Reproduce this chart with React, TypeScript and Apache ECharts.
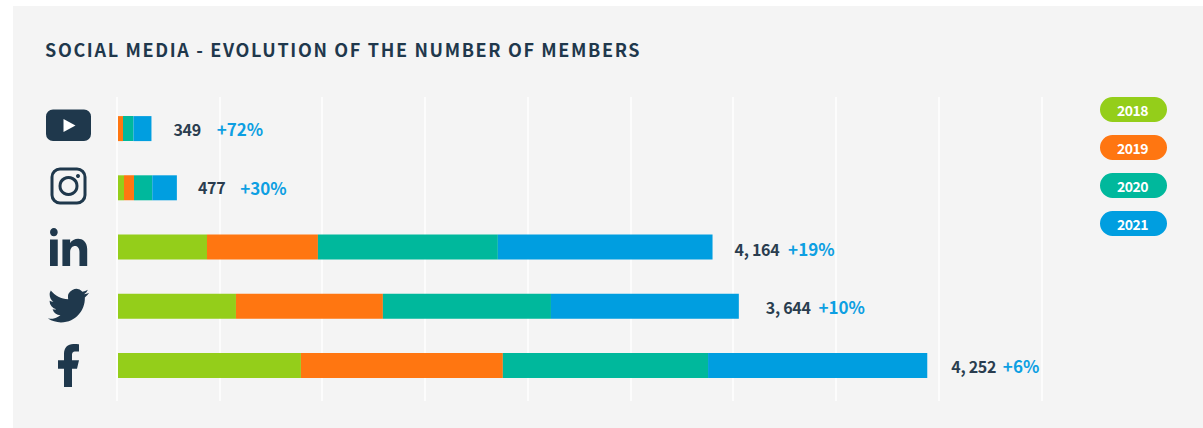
import React, { useEffect, useRef } from "react";
import * as echarts from "echarts";

const titleText = "SOCIAL MEDIA - EVOLUTION OF THE NUMBER OF MEMBERS";
const categories = ["YouTube", "Instagram", "LinkedIn", "Twitter", "Facebook"];
const years = ["2018", "2019", "2020", "2021"];
const values2018 = [0, 116, 1726, 2288, 3548];
const values2019 = [97, 194, 2152, 2850, 3917];
const values2020 = [203, 355, 3490, 3260, 3980];
const values2021 = [349, 477, 4164, 3644, 4252];
const growth = ["+72%", "+30%", "+19%", "+10%", "+6%"];
const labelGaps = [22, 21, 22, 27, 24];
const labelOffsetsY = [0, -0.5, 1.5, 0.5, 0.5];
const labelSpacers = [15, 14, 7, 6, 5];
const yearColors = ["#94ce1a", "#ff7611", "#00b89c", "#009ee0"];
const allValues = [values2018, values2019, values2020, values2021];

const FONT = "'Noto Sans CJK SC', 'Noto Sans', sans-serif";
const DARK = "#1f384c";

echarts.graphic.registerShape(
  "twitterIcon",
  echarts.graphic.extendPath(
    "M23.953 4.57a10 10 0 0 1 -2.825 .775 4.958 4.958 0 0 0 2.163 -2.723c-.951.555-2.005.959-3.127 1.184a4.92 4.92 0 0 0 -8.384 4.482C7.69 8.095 4.067 6.13 1.64 3.162a4.822 4.822 0 0 0 -.666 2.475c0 1.71.87 3.213 2.188 4.096a4.904 4.904 0 0 1 -2.228 -.616v.06a4.923 4.923 0 0 0 3.946 4.827 4.996 4.996 0 0 1 -2.212 .085 4.936 4.936 0 0 0 4.604 3.417 9.867 9.867 0 0 1 -6.102 2.105c-.39 0-.779-.023-1.17-.067a13.995 13.995 0 0 0 7.557 2.209c9.053 0 13.998-7.496 13.998-13.985 0-.21 0-.42-.015-.63A9.935 9.935 0 0 0 24 4.59z",
    {}
  )
);
echarts.graphic.registerShape(
  "facebookIcon",
  echarts.graphic.extendPath(
    "M14 13.5h2.5l1-4H14v-2c0-1.03 0-2 2-2h1.5V2.14c-.326-.043-1.557-.14-2.857-.14C11.928 2 10 3.657 10 6.7v2.8H7v4h3V22h4z",
    {}
  )
);
echarts.graphic.registerShape(
  "linkedinIcon",
  echarts.graphic.extendPath(
    "M4.98 3.5c0 1.381-1.11 2.5-2.48 2.5s-2.48-1.119-2.48-2.5c0-1.38 1.11-2.5 2.48-2.5s2.48 1.12 2.48 2.5zm.02 4.5h-5v16h5v-16zm7.982 0h-4.968v16h4.969v-8.399c0-4.67 6.029-5.052 6.029 0v8.399h4.988v-10.131c0-7.88-8.922-7.593-11.018-3.714v-2.155z",
    {}
  )
);

export default function App() {
  const ref = useRef<HTMLDivElement>(null);
  useEffect(() => {
    const chart = echarts.init(ref.current!, null, { renderer: "svg" });
    const series = years.map((y, i) => ({
      name: y,
      type: "bar",
      stack: "total",
      xAxisIndex: 1,
      yAxisIndex: 1,
      barWidth: 25,
      itemStyle: { color: yearColors[i] },
      data:
        i === 3
          ? allValues[i].map((v, k) => ({
              value: v,
              label: {
                show: true,
                position: "right",
                distance: labelGaps[k],
                offset: [0, labelOffsetsY[k]],
                formatter: `{v|${v.toLocaleString("en-US").replace(",", ", ")}}{s| }{g|${growth[k]}}`,
                rich: {
                  v: { fontFamily: FONT, fontSize: 16, fontWeight: 700, color: "#2a3d4f" },
                  s: { width: labelSpacers[k], fontSize: 12 },
                  g: { fontFamily: FONT, fontSize: 17, fontWeight: 700, color: "#0d9fe2" },
                },
              },
            }))
          : allValues[i],
    }));
    chart.setOption({
      animation: false,
      backgroundColor: "transparent",
      title: {
        text: titleText,
        left: 45,
        top: 40,
        padding: 0,
        textStyle: { fontFamily: FONT, fontSize: 18, fontWeight: 700, color: DARK },
      },
      legend: {
        orient: "vertical",
        left: 1095,
        top: 97,
        itemGap: 13,
        itemWidth: 0,
        itemHeight: 25,
        padding: 0,
        selectedMode: false,
        icon: "rect",
        data: years.map((y, i) => ({
          name: y,
          textStyle: {
            color: "#fff",
            backgroundColor: yearColors[i],
            borderRadius: 12.5,
            width: 32,
            height: 23,
            lineHeight: 23,
            padding: [0, 18, 2, 17],
            fontFamily: FONT,
            fontSize: 14,
            fontWeight: 700,
          },
        })),
      },
      grid: [
        { left: 116.5, top: 97, width: 925, height: 304 },
        { left: 118, top: 99, width: 928, height: 296 },
      ],
      xAxis: [
        {
          type: "value",
          gridIndex: 0,
          min: 0,
          max: 18000,
          interval: 2000,
          axisLabel: { show: false },
          axisLine: { show: false },
          axisTick: { show: false },
          splitLine: { show: true, lineStyle: { color: "#ffffff", width: 1.5 } },
        },
        {
          type: "value",
          gridIndex: 1,
          min: 0,
          max: 18000,
          interval: 2000,
          axisLabel: { show: false },
          axisLine: { show: false },
          axisTick: { show: false },
          splitLine: { show: false },
        },
      ],
      yAxis: [0, 1].map((g) => ({
        type: "category",
        gridIndex: g,
        inverse: true,
        data: categories,
        axisLabel: { show: false },
        axisLine: { show: false },
        axisTick: { show: false },
        splitLine: { show: false },
      })),
      series,
      graphic: [
        // YouTube
        { type: "rect", shape: { x: 46, y: 109.5, width: 45, height: 31.5, r: 7 }, style: { fill: DARK } },
        { type: "polygon", shape: { points: [[63.5, 119], [75.5, 125.5], [63.5, 132]] }, style: { fill: "#fff" } },
        // Instagram
        { type: "rect", shape: { x: 52, y: 169, width: 33, height: 34, r: 8 }, style: { fill: "none", stroke: DARK, lineWidth: 3 } },
        { type: "circle", shape: { cx: 68.5, cy: 186, r: 8.5 }, style: { fill: "none", stroke: DARK, lineWidth: 3 } },
        { type: "circle", shape: { cx: 78, cy: 176, r: 2 }, style: { fill: DARK } },
        // LinkedIn
        { type: "linkedinIcon", x: 50, y: 226.35, scaleX: 1.55, scaleY: 1.65, style: { fill: DARK } },
        // Twitter
        { type: "twitterIcon", x: 48, y: 285.2, scaleX: 1.71, scaleY: 1.71, style: { fill: DARK } },
        // Facebook
        { type: "facebookIcon", x: 44, y: 339.7, scaleX: 2, scaleY: 2.15, style: { fill: DARK } },
      ],
    });
    ref.current!.querySelectorAll("text").forEach((t) => {
      const s = (t as SVGTextElement).style;
      const c = t.textContent || "";
      if (c === titleText) s.letterSpacing = "1.65px";
      else if (years.includes(c)) s.letterSpacing = "-0.5px";
      else if (/^[\d, ]+$/.test(c.trim()) && c.trim()) s.letterSpacing = "-0.3px";
    });
    return () => chart.dispose();
  }, []);
  return (
    <div style={{ position: "absolute", left: 0, top: 0, width: 1203, height: 428, background: "#fff", overflow: "hidden" }}>
      <div style={{ position: "absolute", left: 13, top: 6, right: 0, bottom: 0, background: "#f4f4f4" }} />
      <div ref={ref} style={{ position: "absolute", left: 0, top: 0, width: 1203, height: 428 }} />
    </div>
  );
}
